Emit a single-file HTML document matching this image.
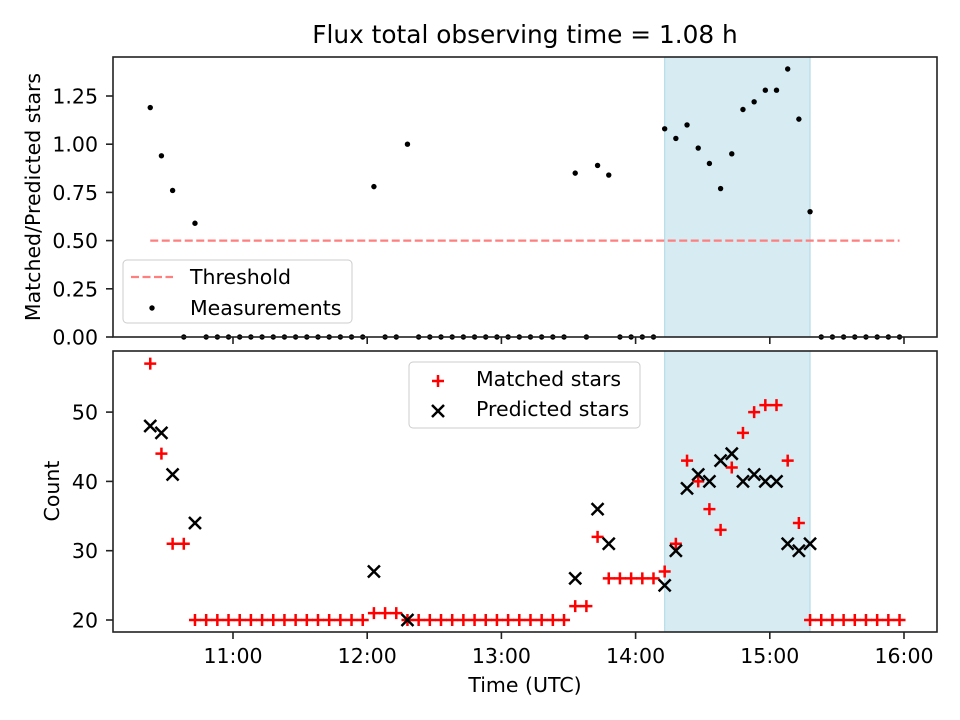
<!DOCTYPE html>
<html><head><meta charset="utf-8"><style>
body{margin:0;background:#fff;}
svg{display:block;font-family:"DejaVu Sans","Liberation Sans",sans-serif;}
</style></head><body>
<svg id="chart" width="960" height="720" viewBox="0 0 960 720" xmlns="http://www.w3.org/2000/svg"></svg>
<script>
// data: time index i -> minutes since 10:00 = startMin + stepMin*i
const startMin = 23;
const stepMin = 5;
const matched = [57,44,31,31,20,20,20,20,20,20,20,20,20,20,20,20,20,20,20,20,21,21,21,20,20,20,20,20,20,20,20,20,20,20,20,20,20,20,22,22,32,26,26,26,26,26,27,31,43,40,36,33,42,47,50,51,51,43,34,20,20,20,20,20,20,20,20,20];
const predicted = [48,47,41,null,34,null,null,null,null,null,null,null,null,null,null,null,null,null,null,null,27,null,null,20,null,null,null,null,null,null,null,null,null,null,null,null,null,null,26,null,36,31,null,null,null,null,25,30,39,41,40,43,44,40,41,40,40,31,30,31,null,null,null,null,null,null,null,null];
const ratio = [1.19,0.94,0.76,0,0.59,0,0,0,0,0,0,0,0,0,0,0,0,0,0,0,0.78,0,0,1.0,0,0,0,0,0,0,0,0,0,0,0,0,0,0,0.85,0,0.89,0.84,0,0,0,0,1.08,1.03,1.10,0.98,0.90,0.77,0.95,1.18,1.22,1.28,1.28,1.39,1.13,0.65,0,0,0,0,0,0,0,0];
const threshold = 0.5;
const spanStartIdx = 46, spanEndIdx = 59;
const xTickLabels = ["11:00","12:00","13:00","14:00","15:00","16:00"];
const xTickMins = [60,120,180,240,300,360];
const topTicks = [0,0.25,0.5,0.75,1.0,1.25];
const botTicks = [20,30,40,50];

const NS="http://www.w3.org/2000/svg";
const svg=document.getElementById('chart');
function el(tag,attrs,parent){const e=document.createElementNS(NS,tag);for(const k in attrs)e.setAttribute(k,attrs[k]);(parent||svg).appendChild(e);return e;}
const L=113,R=937,T1=57,B1=337,T2=351,B2=632;
const FS=20.5;
const xS=m=>233+(m-60)/60*134.2;
const y1=v=>337-v*192.8;
const y2=v=>620-(v-20)*6.93;
const tAt=i=>startMin+stepMin*i;

let t=el('text',{x:525,y:43,'text-anchor':'middle','font-size':24.8,fill:'#000'});t.textContent='Flux total observing time = 1.08 h';


[[T1,B1],[T2,B2]].forEach((p,k)=>{
 const r=el('rect',{x:xS(tAt(spanStartIdx)),y:p[0],width:xS(tAt(spanEndIdx))-xS(tAt(spanStartIdx)),height:p[1]-p[0],fill:'#add8e6','fill-opacity':0.5,stroke:'#add8e6','stroke-width':1});
 
 
});

const th=el('line',{x1:xS(tAt(0)),x2:xS(tAt(ratio.length-1)),y1:y1(threshold),y2:y1(threshold),stroke:'#ff7f7f','stroke-width':2.2,'stroke-dasharray':'8,3.5'});


ratio.forEach((v,i)=>{
 const c=el('circle',{cx:xS(tAt(i)),cy:y1(v),r:2.7,fill:'#000'});
 
});

function plus(x,y){return el('path',{d:`M${x-6},${y}H${x+6}M${x},${y-6}V${y+6}`,stroke:'#f00','stroke-width':2.5,fill:'none'});}
function cross(x,y){return el('path',{d:`M${x-6},${y-6}L${x+6},${y+6}M${x-6},${y+6}L${x+6},${y-6}`,stroke:'#000','stroke-width':2.5,fill:'none'});}
matched.forEach((v,i)=>{if(v==null)return;const p=plus(xS(tAt(i)),y2(v));
 });
predicted.forEach((v,i)=>{if(v==null)return;const p=cross(xS(tAt(i)),y2(v));
 });

[[T1,B1,'top-axes-frame'],[T2,B2,'bottom-axes-frame']].forEach(p=>{
 const r=el('rect',{x:L,y:p[0],width:R-L,height:p[1]-p[0],fill:'none',stroke:'#222','stroke-width':1.6});
 
});
xTickMins.forEach((m,k)=>{
 const x=xS(m);
 el('line',{x1:x,x2:x,y1:B1,y2:B1+7,stroke:'#222','stroke-width':1.6});
 el('line',{x1:x,x2:x,y1:B2,y2:B2+7,stroke:'#222','stroke-width':1.6});
 const tx=el('text',{x:x,y:B2+31,'text-anchor':'middle','font-size':FS});tx.textContent=xTickLabels[k];
 
});
topTicks.forEach(v=>{
 const y=y1(v);el('line',{x1:L-7,x2:L,y1:y,y2:y,stroke:'#222','stroke-width':1.6});
 const tx=el('text',{x:L-15,y:y+7.5,'text-anchor':'end','font-size':FS});tx.textContent=v.toFixed(2);
 
});
botTicks.forEach(v=>{
 const y=y2(v);el('line',{x1:L-7,x2:L,y1:y,y2:y,stroke:'#222','stroke-width':1.6});
 const tx=el('text',{x:L-15,y:y+7.5,'text-anchor':'end','font-size':FS});tx.textContent=v;
 
});
let a=el('text',{x:525,y:692,'text-anchor':'middle','font-size':FS});a.textContent='Time (UTC)';

a=el('text',{x:0,y:0,'text-anchor':'middle','font-size':FS,transform:'translate(40,197) rotate(-90)'});a.textContent='Matched/Predicted stars';

a=el('text',{x:0,y:0,'text-anchor':'middle','font-size':FS,transform:'translate(59,491) rotate(-90)'});a.textContent='Count';


let lg=el('rect',{x:123,y:260,width:229,height:63,rx:4,fill:'#fff','fill-opacity':0.8,stroke:'#ccc','stroke-width':1});

el('line',{x1:131,x2:173,y1:277,y2:277,stroke:'#ff7f7f','stroke-width':2.2,'stroke-dasharray':'8,3.5'});
let lt=el('text',{x:190,y:284,'font-size':FS});lt.textContent='Threshold';

el('circle',{cx:152,cy:308,r:2.7,fill:'#000'});
lt=el('text',{x:190,y:315,'font-size':FS});lt.textContent='Measurements';


lg=el('rect',{x:409,y:362,width:231,height:66,rx:4,fill:'#fff','fill-opacity':0.8,stroke:'#ccc','stroke-width':1});

plus(438,381);
lt=el('text',{x:476,y:386,'font-size':FS});lt.textContent='Matched stars';

cross(438,411);
lt=el('text',{x:476,y:416,'font-size':FS});lt.textContent='Predicted stars';

</script>
</body></html>
